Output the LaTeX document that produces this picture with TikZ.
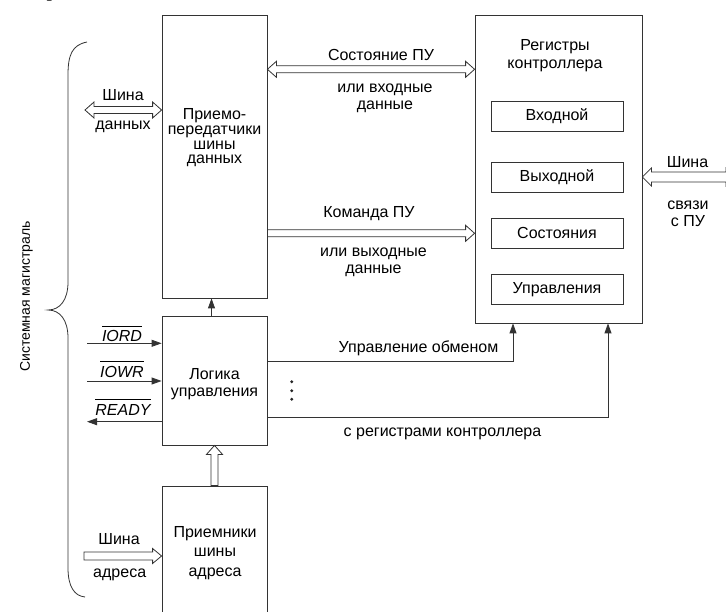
\documentclass[tikz,border=0pt]{standalone}
\usepackage{fontspec}
\setmainfont{Liberation Sans}
\newfontfamily\headserif{Liberation Serif}
\usetikzlibrary{calc,arrows.meta}

% overlined signal name (active-low lines)
\newcommand\barred[1]{\vbox{\hrule height 0.7pt\kern 4.5pt\hbox{#1}}}

% geometry of the hollow bus arrows
\def\bussw{3.5pt}\def\bushw{8pt}\def\bushl{9pt}

\tikzset{
  ln/.style={draw=black!80, line width=0.8pt},
  blk/.style={ln, rectangle, inner sep=0pt},
  lbl/.style={font=\fontsize{16}{17}\selectfont, align=center, inner sep=0pt},
  txt/.style={lbl, yshift=-2pt},
  sig/.style={ln, -{Triangle[length=10pt,width=7pt]}},
  bus width/.code 2 args={\def\bussw{#1}\def\bushw{#2}},
  % hollow bus arrow, one head at the target
  busone/.style={ln, to path={
    (\tikztostart) coordinate (bS) (\tikztotarget) coordinate (bT)
    ($(bT)!\bushl!(bS)$) coordinate (bB)
    ($(bS)!\bussw!90:(bT)$) -- ($(bB)!\bussw!90:(bT)$) -- ($(bB)!\bushw!90:(bT)$)
    -- (bT) -- ($(bB)!\bushw!-90:(bT)$) -- ($(bB)!\bussw!-90:(bT)$)
    -- ($(bS)!\bussw!-90:(bT)$) -- cycle}},
  % hollow bus arrow, heads at both ends
  bustwo/.style={ln, to path={
    (\tikztostart) coordinate (bS) (\tikztotarget) coordinate (bT)
    ($(bT)!\bushl!(bS)$) coordinate (bB)
    ($(bS)!\bushl!(bT)$) coordinate (bA)
    (bS) -- ($(bA)!\bushw!90:(bT)$) -- ($(bA)!\bussw!90:(bT)$)
    -- ($(bB)!\bussw!90:(bT)$) -- ($(bB)!\bushw!90:(bT)$)
    -- (bT) -- ($(bB)!\bushw!-90:(bT)$) -- ($(bB)!\bussw!-90:(bT)$)
    -- ($(bA)!\bussw!-90:(bT)$) -- ($(bA)!\bushw!-90:(bT)$) -- cycle}},
}

\begin{document}
\begin{tikzpicture}[x=1pt, y=-1pt]
\useasboundingbox (0,0) rectangle (726,612);

% fragment of a heading above the figure
\node[font=\headserif\fontsize{22}{22}\selectfont, anchor=base, inner sep=0pt] (headfrag) at (52,-3) {р};

% blocks
\node[blk, minimum width=105pt, minimum height=283pt] (trx)   at (214.5,156.5) {};
\node[blk, minimum width=105pt, minimum height=129pt] (logic) at (214.5,380.5) {};
\node[blk, minimum width=105pt, minimum height=154pt] (addr)  at (214.5,563) {};
\node[blk, minimum width=167pt, minimum height=308pt] (reg)   at (558.5,169) {};

\node[txt, font=\fontsize{16}{14.7}\selectfont] (trxtext) at (214.5,136)
  {Приемо-\\передатчики\\шины\\данных};
\node[txt] (logictext) at (214.5,382.5) {Логика\\управления};
\node[txt, font=\fontsize{16}{19.5}\selectfont] (addrtext) at (215,551) {Приемники\\шины\\адреса};
\node[txt, font=\fontsize{16}{18}\selectfont] (regtext) at (555,54) {Регистры\\контроллера};

% controller registers
\foreach \nm/\y/\t in {rin/116/Входной, rout/177/Выходной, rst/233/Состояния, rctl/289.5/Управления}
  \node[blk, minimum width=132pt, minimum height=30pt, lbl, ln] (\nm) at (557,\y) {\t};

% system bus brace
\draw[ln] (87,42) .. controls (72,45) and (68,55) .. (68,75)
  -- (68,282) .. controls (68,300) and (60,310) .. (48,310)
  .. controls (60,310) and (68,320) .. (68,338)
  -- (68,568) .. controls (68,586) and (74,596) .. (85,597);
\node[lbl, font=\fontsize{14}{14}\selectfont, rotate=90, anchor=base] (sysbus) at (30,296.5) {Системная магистраль};

% data bus
\coordinate (dbL) at (85,110);
\draw[bustwo] (dbL) to (trx.west |- dbL);
\node[txt] (db1) at (123,93) {Шина};
\node[txt] (db2) at (123,124.5) {данных};

% status / input data
\coordinate (row1) at (0,69.3);
\draw[bustwo] (trx.east |- row1) to (reg.west |- row1);
\node[txt] (st1) at (381,53.3) {Состояние ПУ};
\node[txt] (st2) at (385,96) {или входные\\данные};

% command / output data
\coordinate (row2) at (0,233.3);
\draw[busone] (trx.east |- row2) to (reg.west |- row2);
\node[txt] (cm1) at (369,211.7) {Команда ПУ};
\node[txt] (cm2) at (373.5,260.5) {или выходные\\данные};

% device link bus
\coordinate (puR) at (735,177);
\draw[bustwo, bus width={5pt}{9pt}] (reg.east |- puR) to (puR);
\node[txt] (pu1) at (687.5,160) {Шина};
\node[txt] (pu2) at (688,211.5) {связи\\с ПУ};

% control signals of the system bus
\coordinate (iordL)  at (87,343.3);
\coordinate (iowrL)  at (87,381);
\coordinate (readyL) at (87,421.7);
\draw[sig] (iordL) -- (logic.west |- iordL);
\draw[sig] (iowrL) -- (logic.west |- iowrL);
\draw[sig] (logic.west |- readyL) -- (readyL);
\node[lbl, font=\itshape\fontsize{16}{17}\selectfont, anchor=base] (iord)  at (122,342) {\barred{IORD}};
\node[lbl, font=\itshape\fontsize{16}{17}\selectfont, anchor=base] (iowr)  at (122,377.5) {\barred{IOWR}};
\node[lbl, font=\itshape\fontsize{16}{17}\selectfont, anchor=base] (ready) at (123,415) {\barred{READY}};

% transceivers -> logic
\draw[sig] ([xshift=-3pt]logic.north) -- ([xshift=-3pt]trx.south);

% address receivers -> logic
\draw[busone] (addr.north) to (logic.south);

% address bus
\coordinate (abL) at (84,556);
\draw[busone, bus width={4pt}{7.5pt}] (abL) to (addr.west |- abL);
\node[txt] (ab1) at (119,537) {Шина};
\node[txt] (ab2) at (119.7,572.5) {адреса};

% exchange control lines to the registers
\coordinate (ctl1) at (0,361);
\coordinate (ctl2) at (0,417);
\draw[sig] (logic.east |- ctl1) -| ([xshift=-45.5pt]reg.south);
\draw[sig] (logic.east |- ctl2) -| ([xshift=49.5pt]reg.south);
\node[txt] (x1) at (418.5,346.7) {Управление обменом};
\node[txt] (x2) at (442.5,431.7) {с регистрами контроллера};
\foreach \y [count=\i] in {381.7,390.7,399.3}
  \fill[black!85] (291.7,\y) circle (1.6pt) coordinate (dot\i);

\end{tikzpicture}
\end{document}
